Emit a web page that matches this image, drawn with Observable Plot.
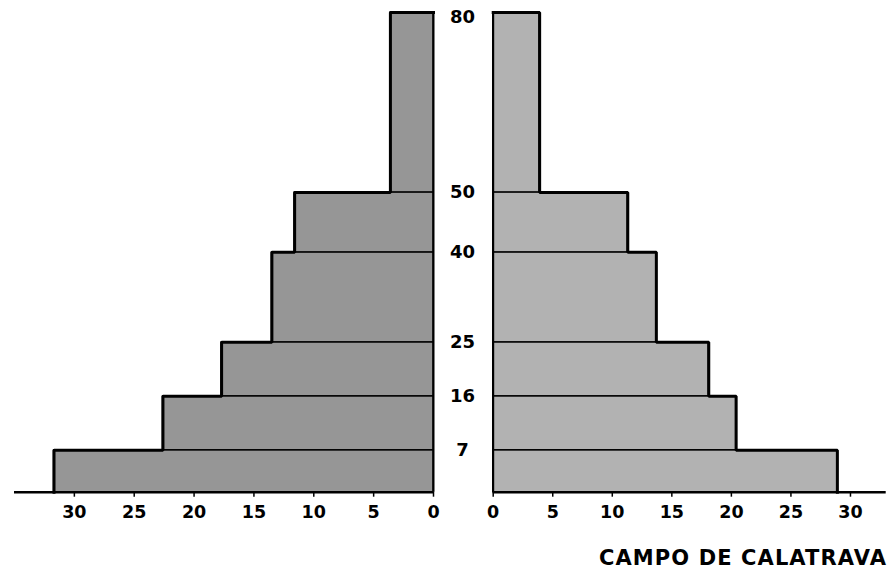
<!DOCTYPE html>
<html><head><meta charset="utf-8">
<script src="https://cdn.jsdelivr.net/npm/d3@7"></script>
<script src="https://cdn.jsdelivr.net/npm/@observablehq/plot@0.6"></script>
<style>
body{margin:0;background:#fff;font-family:"DejaVu Sans",sans-serif;}
#wrap{position:relative;width:889px;height:581px;overflow:hidden;}
#left{position:absolute;left:0;top:0}
#right{position:absolute;left:455px;top:0}
#title{position:absolute;right:2px;top:548px;font-weight:bold;font-size:21px;line-height:21px;letter-spacing:1.1px;color:#000;white-space:nowrap;font-family:"DejaVu Sans",sans-serif}
svg{overflow:visible}
</style></head><body>
<div id="wrap"><div id="left"></div><div id="right"></div><div id="title"></div></div>
<script>
// Age groups (years)
const ageStarts = [0, 7, 16, 25, 40, 50];
const ageEnds   = [7, 16, 25, 40, 50, 80];
const ageLabels = [7, 16, 25, 40, 50, 80];
// Percentages
const leftValues  = [31.7, 22.6, 17.7, 13.5, 11.6, 3.6];
const rightValues = [28.9, 20.4, 18.1, 13.7, 11.3, 3.9];
// Tick labels
const leftTicks  = [0, 5, 10, 15, 20, 25, 30];
const rightTicks = [0, 5, 10, 15, 20, 25, 30];
const titleText = "CAMPO DE CALATRAVA";

const font = '"DejaVu Sans", sans-serif';
const H = 530, MT = 12, MB = 38.3;

function rows(values) {
  return values.map((v, i) => ({v, a0: ageStarts[i], a1: ageEnds[i]}));
}
function stair(values) {
  const pts = [];
  values.forEach((v, i) => { pts.push({x: v, y: ageStarts[i]}); pts.push({x: v, y: ageEnds[i]}); });
  pts.push({x: 0, y: ageEnds[ageEnds.length - 1]});
  return pts;
}

function side(values, opts) {
  const data = rows(values);
  const marks = [
    Plot.rectX(data, {x1: 0, x2: "v", y1: "a0", y2: "a1", fill: opts.fill, stroke: "#000", strokeWidth: 1.4}),
    Plot.ruleX([0], {y1: 0, y2: 80, stroke: "#000", strokeWidth: 2}),
    Plot.line(stair(values), {x: "x", y: "y", stroke: "#000", strokeWidth: 3, strokeLinejoin: "miter", strokeLinecap: "square"}),
    Plot.ruleY([0], {x1: 0, x2: opts.max, stroke: "#000", strokeWidth: 2.5}),
    Plot.axisX({ticks: opts.ticks, tickSize: 5, tickPadding: 8, tickFormat: d => String(d),
      fontSize: 17.5, fontWeight: "bold", label: null, strokeWidth: 1.5})
  ];
  if (opts.labels) {
    const lab = ageLabels.filter(a => a < 80);
    const top = ageLabels.filter(a => a >= 80);
    marks.push(Plot.text(lab, {x: 0, y: d => d, dx: opts.labelDx, text: d => String(d),
      fontSize: 18, fontWeight: "bold", fill: "#000", textAnchor: "middle", lineAnchor: "middle"}));
    marks.push(Plot.text(top, {x: 0, y: d => d, dx: opts.labelDx, dy: 5, text: d => String(d),
      fontSize: 18, fontWeight: "bold", fill: "#000", textAnchor: "middle", lineAnchor: "middle"}));
  }
  return Plot.plot({
    width: opts.width, height: H,
    marginTop: MT, marginBottom: MB, marginLeft: opts.ml, marginRight: opts.mr,
    style: {fontFamily: font, background: "transparent", color: "#000", overflow: "visible"},
    x: {domain: [0, opts.max], reverse: opts.reverse, axis: null},
    y: {domain: [0, 80], axis: null},
    marks
  });
}

document.getElementById("left").append(side(leftValues, {
  width: 455, ml: 14, mr: 22, max: 35, reverse: true, ticks: leftTicks, fill: "#969696"
}));
document.getElementById("right").append(side(rightValues, {
  width: 434, ml: 37.7, mr: 3.3, max: 33, reverse: false, ticks: rightTicks, fill: "#b2b2b2",
  labels: true, labelDx: -30.7
}));
document.getElementById("title").textContent = titleText;
</script>
</body></html>
